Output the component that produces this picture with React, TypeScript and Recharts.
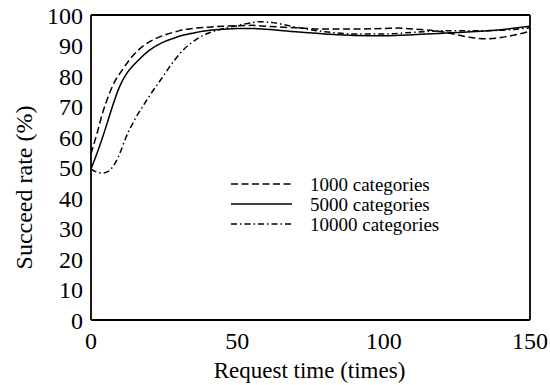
import React from "react";
import { LineChart, Line, XAxis, YAxis, Legend } from "recharts";

const FONT = "Liberation Serif, Tinos, Times New Roman, Times, DejaVu Serif, Noto Serif, serif";

const xTicks = [0, 50, 100, 150];
const yTicks = [0, 10, 20, 30, 40, 50, 60, 70, 80, 90, 100];

const cat1000 = [
  { x: 0, y: 54.5 }, { x: 2, y: 61 }, { x: 4, y: 68 }, { x: 6, y: 73.5 },
  { x: 8, y: 78 }, { x: 10, y: 81 }, { x: 14, y: 86.3 }, { x: 18, y: 90 },
  { x: 22, y: 92.2 }, { x: 26, y: 93.7 }, { x: 30, y: 94.8 }, { x: 35, y: 95.6 },
  { x: 40, y: 96 }, { x: 45, y: 96.3 }, { x: 50, y: 96.5 }, { x: 55, y: 96.6 },
  { x: 60, y: 96.3 }, { x: 70, y: 95.8 }, { x: 80, y: 95.4 }, { x: 90, y: 95.4 },
  { x: 100, y: 95.6 }, { x: 105, y: 95.7 }, { x: 110, y: 95.4 }, { x: 120, y: 94.5 },
  { x: 130, y: 92.6 }, { x: 135, y: 92.2 }, { x: 140, y: 92.6 }, { x: 145, y: 93.5 },
  { x: 150, y: 94.7 },
];

const cat5000 = [
  { x: 0, y: 49.5 }, { x: 2, y: 54.5 }, { x: 4, y: 60 }, { x: 6, y: 66 },
  { x: 8, y: 72 }, { x: 10, y: 77 }, { x: 12, y: 80.5 }, { x: 16, y: 85 },
  { x: 20, y: 88.5 }, { x: 24, y: 90.8 }, { x: 28, y: 92.3 }, { x: 32, y: 93.5 },
  { x: 36, y: 94.3 }, { x: 40, y: 94.9 }, { x: 45, y: 95.3 }, { x: 50, y: 95.6 },
  { x: 55, y: 95.6 }, { x: 60, y: 95.3 }, { x: 70, y: 94.5 }, { x: 80, y: 93.8 },
  { x: 90, y: 93.3 }, { x: 100, y: 93.2 }, { x: 110, y: 93.5 }, { x: 120, y: 94 },
  { x: 130, y: 94.5 }, { x: 140, y: 95.2 }, { x: 150, y: 96.3 },
];

const cat10000 = [
  { x: 0, y: 49.5 }, { x: 2, y: 48.5 }, { x: 4, y: 48.2 }, { x: 6, y: 48.8 },
  { x: 8, y: 51 }, { x: 10, y: 55 }, { x: 12, y: 60 }, { x: 14, y: 64 },
  { x: 16, y: 67.5 }, { x: 18, y: 70.5 }, { x: 20, y: 73.5 }, { x: 24, y: 79 },
  { x: 28, y: 84.5 }, { x: 32, y: 89 }, { x: 36, y: 92 }, { x: 40, y: 94 },
  { x: 45, y: 95.5 }, { x: 50, y: 96.5 }, { x: 55, y: 97.5 }, { x: 58, y: 97.8 },
  { x: 62, y: 97.5 }, { x: 70, y: 96 }, { x: 80, y: 94.5 }, { x: 90, y: 93.8 },
  { x: 100, y: 93.8 }, { x: 110, y: 94.3 }, { x: 120, y: 94.8 }, { x: 130, y: 94.8 },
  { x: 140, y: 95 }, { x: 150, y: 95.8 },
];

const series = [
  { name: "1000 categories", data: cat1000, dash: "7 3.5" },
  { name: "5000 categories", data: cat5000, dash: undefined },
  { name: "10000 categories", data: cat10000, dash: "6 3 1.5 3" },
];

function LegendBox() {
  return (
    <svg width={260} height={64} style={{ overflow: "visible" }}>
      {series.map((s, i) => (
        <g key={s.name}>
          <line
            x1={3}
            x2={64}
            y1={12 + i * 20}
            y2={12 + i * 20}
            stroke="#000"
            strokeWidth={1.5}
            strokeDasharray={s.dash}
          />
          <text
            x={82}
            y={12 + i * 20}
            dy="0.35em"
            style={{ fontFamily: FONT }}
            fontSize={19}
            fill="#000"
          >
            {s.name}
          </text>
        </g>
      ))}
    </svg>
  );
}

export default function App() {
  const axisStroke = { stroke: "#000", strokeWidth: 1.8 };
  return (
    <div style={{ position: "absolute", left: 0, top: 0, background: "#fff", fontFamily: FONT }}>
      <LineChart
        width={550}
        height={385}
        margin={{ top: 15, right: 20, bottom: 0, left: 0 }}
        style={{ fontFamily: FONT }}
      >
        <XAxis
          xAxisId="b"
          dataKey="x"
          type="number"
          domain={[0, 150]}
          ticks={xTicks}
          allowDataOverflow
          height={65}
          axisLine={axisStroke}
          tickLine={false}
          tickSize={0}
          tickMargin={12}
          tick={{ fill: "#000", fontSize: 24, style: { fontFamily: FONT } }}
          label={{
            content: (p: any) => {
              const vb = p.viewBox;
              return (
                <text
                  x={vb.x + vb.width / 2 - 1}
                  y={378}
                  textAnchor="middle"
                  style={{ fontFamily: FONT }}
                  fontSize={23}
                  fill="#000"
                >
                  Request time (times)
                </text>
              );
            },
          }}
        />
        <XAxis
          xAxisId="bi"
          dataKey="x"
          type="number"
          domain={[0, 150]}
          ticks={xTicks}
          allowDataOverflow
          mirror
          axisLine={false}
          tick={false}
          tickSize={6}
          tickLine={{ stroke: "#000", strokeWidth: 1.5 }}
        />
        <XAxis
          xAxisId="t"
          dataKey="x"
          orientation="top"
          type="number"
          domain={[0, 150]}
          ticks={xTicks}
          allowDataOverflow
          mirror
          axisLine={axisStroke}
          tick={false}
          tickSize={6}
          tickLine={{ stroke: "#000", strokeWidth: 1.5 }}
        />
        <YAxis
          yAxisId="l"
          type="number"
          domain={[0, 100]}
          ticks={yTicks}
          allowDataOverflow
          width={91}
          axisLine={axisStroke}
          tickLine={false}
          tickSize={0}
          tickMargin={8}
          interval={0}
          tick={{ fill: "#000", fontSize: 24, style: { fontFamily: FONT } }}
          label={{
            content: (p: any) => {
              const vb = p.viewBox;
              const cx = 32;
              const cy = vb.y + vb.height / 2 + 20;
              return (
                <text
                  x={cx}
                  y={cy}
                  transform={`rotate(-90 ${cx} ${cy})`}
                  textAnchor="middle"
                  style={{ fontFamily: FONT }}
                  fontSize={24}
                  fill="#000"
                >
                  Succeed rate (%)
                </text>
              );
            },
          }}
        />
        <YAxis
          yAxisId="li"
          type="number"
          domain={[0, 100]}
          ticks={yTicks}
          allowDataOverflow
          mirror
          interval={0}
          axisLine={false}
          tick={false}
          tickSize={6}
          tickLine={{ stroke: "#000", strokeWidth: 1.5 }}
        />
        <YAxis
          yAxisId="r"
          orientation="right"
          type="number"
          domain={[0, 100]}
          ticks={yTicks}
          allowDataOverflow
          mirror
          interval={0}
          axisLine={axisStroke}
          tick={false}
          tickSize={6}
          tickLine={{ stroke: "#000", strokeWidth: 1.5 }}
        />
        <Legend
          layout="vertical"
          align="center"
          verticalAlign="middle"
          content={() => <LegendBox />}
          wrapperStyle={{ position: "absolute", left: 228, top: 172, width: 260 }}
        />
        {series.map((s) => (
          <Line
            key={s.name}
            xAxisId="b"
            yAxisId="l"
            data={s.data}
            dataKey="y"
            name={s.name}
            type="monotone"
            stroke="#000"
            strokeWidth={1.5}
            strokeDasharray={s.dash}
            dot={false}
            activeDot={false}
            isAnimationActive={false}
          />
        ))}
      </LineChart>
    </div>
  );
}
